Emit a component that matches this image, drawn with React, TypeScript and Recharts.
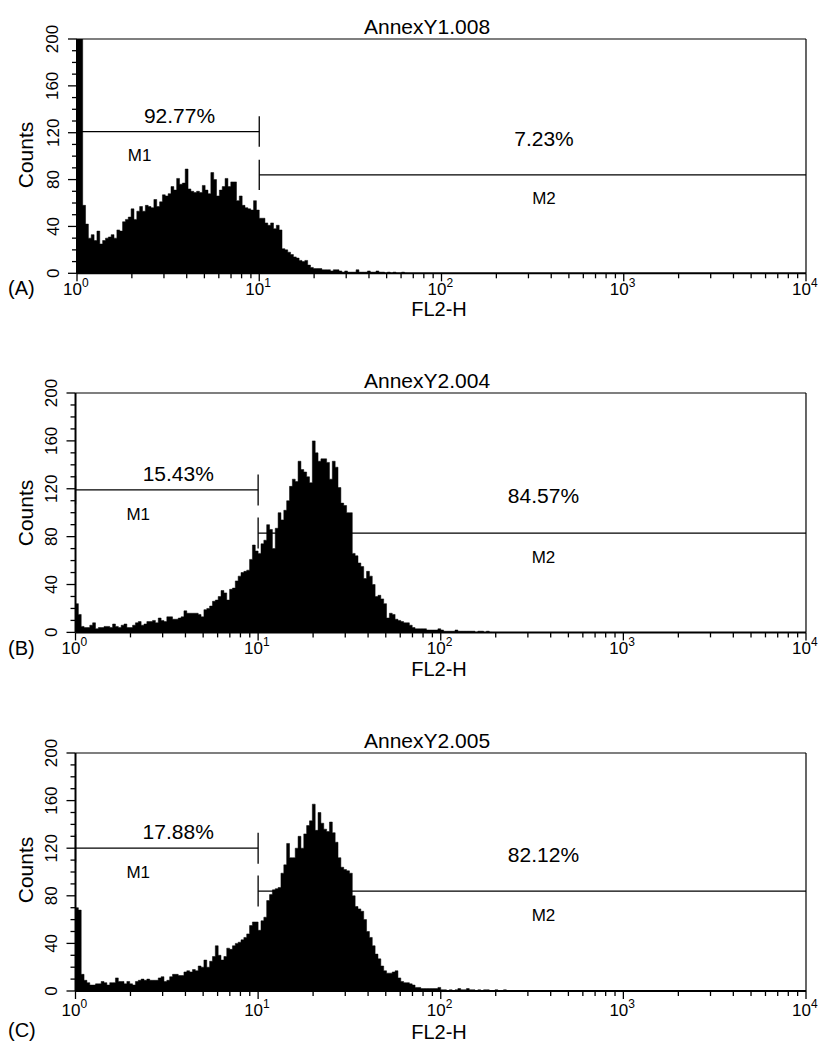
import React from 'react';
import { ComposedChart, Area, XAxis, YAxis, ReferenceLine, ReferenceDot } from 'recharts';

const FONT = '"Liberation Sans", Arial, Helvetica, sans-serif';

// panel texts
const titles = ['AnnexY1.008', 'AnnexY2.004', 'AnnexY2.005'];
const panelTags = ['(A)', '(B)', '(C)'];
const m1Percent = ['92.77%', '15.43%', '17.88%'];
const m2Percent = ['7.23%', '84.57%', '82.12%'];
const m1Level = [121, 119, 120];
const m2Level = [84, 83, 84];

// axes
const yTickValues = [0, 10, 20, 30, 40, 50, 60, 70, 80, 90, 100, 110, 120, 130, 140, 150, 160, 170, 180, 190, 200];
const decadeExponents = [0, 1, 2, 3];
const minorMultipliers = [1, 2, 3, 4, 5, 6, 7, 8, 9];
const CH_PER_DECADE = 64;
const CHANNELS = 256;
const gateSplit = 64; // 10^1

// FL2-H histograms, counts per channel (64 channels per decade)
const countsA = [
  250, 230, 58, 42, 30, 33, 28, 36, 25, 28,
  30, 31, 33, 30, 37, 36, 44, 46, 48, 55,
  46, 53, 57, 53, 58, 57, 56, 63, 57, 61,
  67, 66, 68, 74, 71, 81, 76, 77, 89, 72,
  70, 69, 70, 69, 75, 71, 68, 86, 80, 66,
  71, 74, 81, 74, 78, 78, 62, 66, 58, 56,
  55, 54, 62, 54, 47, 47, 43, 41, 43, 38,
  41, 37, 21, 20, 18, 16, 14, 13, 11, 10,
  11, 7, 5, 4, 4, 4, 3, 3, 3, 2,
  3, 3, 2, 1, 2, 1, 1, 1, 3, 1,
  1, 1, 2, 1, 1, 2, 1, 1, 0, 1,
  0, 1, 0, 0, 1, 0,
];

const countsB = [
  24, 15, 5, 4, 4, 6, 8, 3, 4, 4,
  5, 5, 4, 7, 5, 4, 6, 7, 4, 4,
  6, 8, 9, 6, 7, 9, 9, 10, 8, 12,
  10, 9, 13, 13, 11, 11, 12, 13, 18, 16,
  16, 16, 16, 15, 13, 19, 20, 22, 26, 27,
  30, 35, 33, 27, 36, 37, 43, 47, 50, 51,
  52, 61, 73, 68, 66, 74, 77, 90, 86, 70,
  87, 100, 94, 102, 110, 122, 128, 126, 143, 136,
  134, 130, 125, 160, 150, 143, 145, 145, 142, 128,
  143, 138, 121, 108, 106, 100, 100, 66, 64, 58,
  55, 45, 51, 47, 40, 30, 31, 28, 24, 12,
  16, 15, 11, 10, 9, 8, 8, 6, 4, 3,
  3, 3, 3, 2, 2, 2, 2, 3, 2, 1,
  1, 1, 1, 2, 1, 1, 1, 1, 1, 1,
  0, 1, 1, 0, 1, 0,
];

const countsC = [
  70, 68, 14, 9, 7, 5, 5, 6, 6, 8,
  7, 5, 7, 7, 11, 8, 8, 6, 8, 6,
  5, 8, 9, 10, 9, 10, 9, 9, 9, 11,
  12, 8, 9, 12, 14, 14, 13, 13, 16, 17,
  16, 18, 17, 21, 20, 26, 20, 25, 29, 38,
  30, 26, 29, 36, 35, 38, 40, 41, 43, 45,
  48, 55, 58, 58, 51, 59, 62, 76, 81, 85,
  86, 87, 99, 106, 124, 112, 112, 120, 130, 120,
  132, 139, 143, 157, 135, 150, 141, 136, 134, 142,
  133, 125, 112, 104, 102, 101, 99, 80, 71, 69,
  67, 60, 50, 45, 38, 31, 27, 21, 17, 15,
  15, 16, 17, 11, 8, 7, 7, 6, 5, 3,
  3, 2, 2, 2, 2, 2, 2, 3, 1, 1,
  0, 1, 0, 1, 2, 1, 1, 2, 1, 1,
  0, 1, 0, 1, 1, 0, 0, 1, 0, 0,
  1, 0,
];

const histograms = [countsA, countsB, countsC];

// page layout of each plot box and its surrounding text baselines
const layout = [
  { left: 77, top: 39, bottom: 273.3, tickY: 22, xTitle: 316, tag: 295, counts: 155 },
  { left: 75.5, top: 393.3, bottom: 632.7, tickY: 22, xTitle: 676, tag: 655, counts: 513 },
  { left: 75.5, top: 752.7, bottom: 990.7, tickY: 25, xTitle: 1039, tag: 1037, counts: 870 },
];

const xTicks = [
  ...decadeExponents.flatMap((d) => minorMultipliers.map((k) => CH_PER_DECADE * (d + Math.log10(k)))),
  CHANNELS,
];

function XTick(props: any) {
  const { x, y, payload, labelY } = props;
  const v = payload.value / CH_PER_DECADE;
  const major = Math.abs(v - Math.round(v)) < 1e-6;
  return (
    <g>
      <line x1={x} x2={x} y1={y} y2={y + (major ? 8 : 5)} stroke="#000" strokeWidth={1.3} />
      {major && (
        <text x={x - 14} y={y + labelY} textAnchor="start" fontSize={17} fontFamily={FONT} fill="#000">
          10
          <tspan dy={-8} fontSize={12}>{Math.round(v)}</tspan>
        </text>
      )}
    </g>
  );
}

function YTick(props: any) {
  const { x, y, payload } = props;
  const v = payload.value;
  const major = v % 40 === 0;
  const lx = x - 24;
  return (
    <g>
      <line x1={x - (major ? 9 : 5)} x2={x} y1={y} y2={y} stroke="#000" strokeWidth={1.3} />
      {major && (
        <text
          x={lx}
          y={y}
          transform={`rotate(-90 ${lx} ${y})`}
          textAnchor="middle"
          dominantBaseline="central"
          fontSize={17}
          fontFamily={FONT}
          fill="#000"
        >
          {v}
        </text>
      )}
    </g>
  );
}

function Panel({ idx }: { idx: number }) {
  const L = layout[idx];
  const counts = histograms[idx];
  const data = [...counts.map((v, i) => ({ ch: i, v })), { ch: counts.length, v: 0 }];
  const plotH = L.bottom - L.top;
  const m1 = m1Level[idx];
  const m2 = m2Level[idx];
  const line = { stroke: '#000', strokeWidth: 1.3 };
  return (
    <div style={{ position: 'absolute', left: 0, top: L.top - 20 }}>
      <ComposedChart
        width={819}
        height={plotH + 20 + 45}
        data={data}
        margin={{ top: 20, right: 13, bottom: 15, left: L.left - 40 }}
      >
        <XAxis
          dataKey="ch"
          type="number"
          domain={[0, CHANNELS]}
          ticks={xTicks}
          interval={0}
          allowDataOverflow
          tickSize={0}
          tickMargin={0}
          height={30}
          axisLine={{ stroke: '#000', strokeWidth: 2 }}
          tick={(p: any) => <XTick {...p} labelY={L.tickY} />}
        />
        <YAxis
          type="number"
          domain={[0, 200]}
          ticks={yTickValues}
          interval={0}
          allowDataOverflow
          tickSize={0}
          tickMargin={0}
          width={40}
          axisLine={{ stroke: '#000', strokeWidth: 2 }}
          tick={(p: any) => <YTick {...p} />}
        />
        <Area
          dataKey="v"
          type="stepAfter"
          stroke="#000"
          strokeWidth={0.5}
          fill="#000"
          fillOpacity={1}
          isAnimationActive={false}
        />
        <ReferenceLine y={200} stroke="#000" strokeWidth={1.2} />
        <ReferenceLine x={CHANNELS} stroke="#000" strokeWidth={1.2} />
        <ReferenceLine segment={[{ x: 0, y: m1 }, { x: gateSplit, y: m1 }]} {...line} />
        <ReferenceLine segment={[{ x: 0, y: m1 - 12 }, { x: 0, y: m1 + 12 }]} {...line} />
        <ReferenceLine segment={[{ x: gateSplit, y: m1 - 13 }, { x: gateSplit, y: m1 + 13 }]} {...line} />
        <ReferenceLine segment={[{ x: gateSplit, y: m2 }, { x: CHANNELS, y: m2 }]} {...line} />
        <ReferenceLine segment={[{ x: gateSplit, y: m2 - 13 }, { x: gateSplit, y: m2 + 13 }]} {...line} />
        <ReferenceDot
          x={36}
          y={m1 + 14}
          r={1}
          fill="none"
          stroke="none"
          label={{ value: m1Percent[idx], position: 'center', fontSize: 21, fill: '#000', fontFamily: FONT }}
        />
        <ReferenceDot
          x={22}
          y={m1 - 20}
          r={1}
          fill="none"
          stroke="none"
          label={{ value: 'M1', position: 'center', fontSize: 17, fill: '#000', fontFamily: FONT }}
        />
        <ReferenceDot
          x={164}
          y={m2 + 31}
          r={1}
          fill="none"
          stroke="none"
          label={{ value: m2Percent[idx], position: 'center', fontSize: 21, fill: '#000', fontFamily: FONT }}
        />
        <ReferenceDot
          x={164}
          y={m2 - 20}
          r={1}
          fill="none"
          stroke="none"
          label={{ value: 'M2', position: 'center', fontSize: 17, fill: '#000', fontFamily: FONT }}
        />
      </ComposedChart>
    </div>
  );
}

export default function App() {
  return (
    <div style={{ position: 'absolute', left: 0, top: 0, width: 819, height: 1044, background: '#fff' }}>
      {[0, 1, 2].map((i) => (
        <Panel key={i} idx={i} />
      ))}
      <svg
        width={819}
        height={1044}
        style={{ position: 'absolute', left: 0, top: 0, pointerEvents: 'none' }}
        fontFamily={FONT}
        fill="#000"
      >
        {layout.map((L, i) => (
          <g key={i}>
            <text x={364} y={L.top - 5} fontSize={21}>{titles[i]}</text>
            <text x={439} y={L.xTitle} fontSize={20} textAnchor="middle">FL2-H</text>
            <text x={8} y={L.tag} fontSize={20}>{panelTags[i]}</text>
            <text x={33} y={L.counts} fontSize={21} textAnchor="middle" transform={`rotate(-90 33 ${L.counts})`}>
              Counts
            </text>
          </g>
        ))}
      </svg>
    </div>
  );
}
